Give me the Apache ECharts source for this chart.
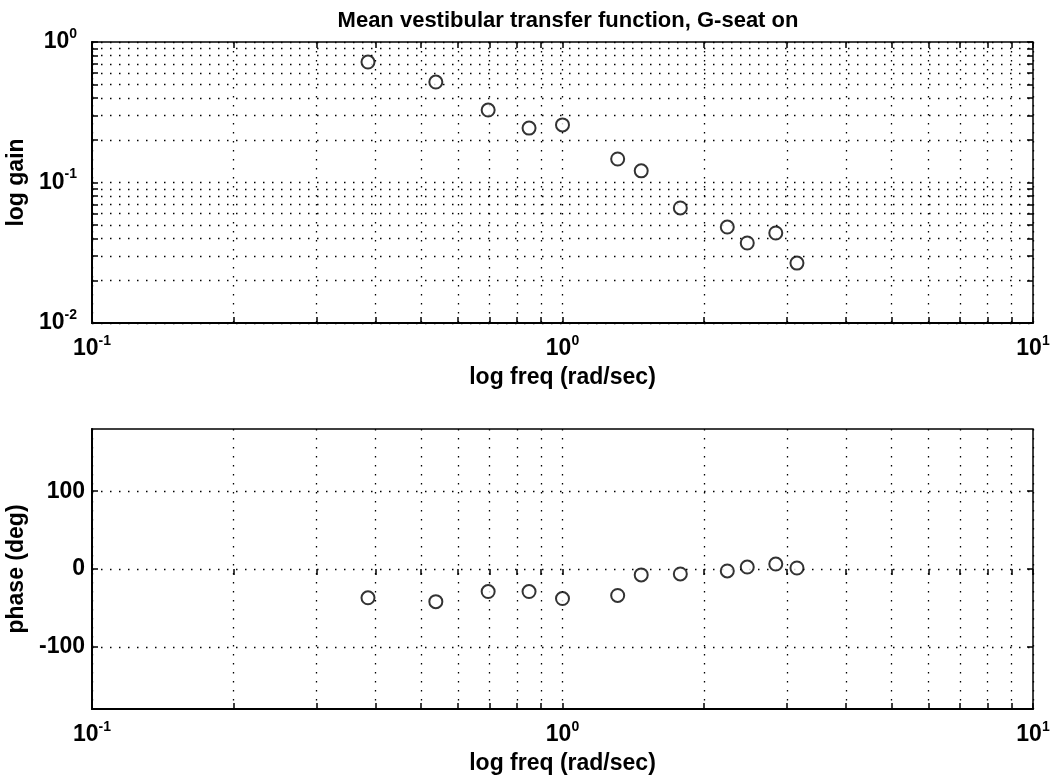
<!DOCTYPE html>
<html>
<head>
<meta charset="utf-8">
<script src="https://cdn.jsdelivr.net/npm/echarts@6/dist/echarts.min.js"></script>
<style>
  html, body { margin: 0; padding: 0; background: #fff; }
  #chart { width: 1058px; height: 780px; }
</style>
</head>
<body>
<div id="chart"></div>
<script>
var freq = [0.386, 0.538, 0.695, 0.849, 1.0, 1.31, 1.47, 1.78, 2.24, 2.47, 2.84, 3.15];
var gain = [0.72, 0.519, 0.328, 0.244, 0.257, 0.147, 0.121, 0.0659, 0.0482, 0.0371, 0.0437, 0.0267];
var phase = [-37, -42, -29, -29, -38, -34, -7.6, -6.4, -2.5, 2.5, 6.4, 1.3];

var freqTicks = [0.1, 0.2, 0.3, 0.4, 0.5, 0.6, 0.7, 0.8, 0.9, 1, 2, 3, 4, 5, 6, 7, 8, 9, 10];
var freqLabels = [0.1, 1, 10];
var gainTicks = [0.01, 0.02, 0.03, 0.04, 0.05, 0.06, 0.07, 0.08, 0.09, 0.1, 0.2, 0.3, 0.4, 0.5, 0.6, 0.7, 0.8, 0.9, 1];
var gainLabels = [0.01, 0.1, 1];
var phaseTicks = [-100, 0, 100];

var FONT = "Liberation Sans, Arial, sans-serif";
var BLACK = "#000";

function pow10Label(v) {
  var e = Math.round(Math.log(v) / Math.LN10);
  return "{b|10}{s|" + e + "}";
}
var richPow = {
  b: { fontSize: 23, fontFamily: FONT, fontWeight: "bold", color: BLACK, lineHeight: 30 },
  s: { fontSize: 14, fontFamily: FONT, fontWeight: "bold", color: BLACK, verticalAlign: "top", lineHeight: 30, padding: [0, 0, 14, 0] }
};
var nameStyle = { fontSize: 23, fontFamily: FONT, fontWeight: "bold", color: BLACK };

var dotted = { color: BLACK, width: 1.3, type: [1.5, 7.5] };
var tickLine = { color: BLACK, width: 1.5 };

function pairs(xs, ys) {
  return xs.map(function(x, i) { return [x, ys[i]]; });
}

function freqAxis(idx) {
  return {
    type: "log",
    gridIndex: idx,
    min: 0.1,
    max: 10,
    name: "log freq (rad/sec)",
    nameLocation: "middle",
    nameGap: 43,
    nameTextStyle: nameStyle,
    axisLine: { onZero: false, lineStyle: { color: BLACK, width: 2 } },
    axisTick: { inside: true, length: 6, customValues: freqTicks, lineStyle: tickLine },
    axisLabel: { customValues: freqLabels, formatter: pow10Label, rich: richPow, margin: 11 },
    splitLine: { show: true, lineStyle: dotted }
  };
}

// mirrored ticks on the top edge (no labels, no grid)
function freqTopAxis(idx) {
  return {
    type: "log",
    gridIndex: idx,
    position: "top",
    min: 0.1,
    max: 10,
    axisLine: { show: false },
    axisTick: { inside: true, length: 6, customValues: freqTicks, lineStyle: tickLine },
    axisLabel: { show: false },
    splitLine: { show: false }
  };
}

var chart = echarts.init(document.getElementById("chart"));
chart.setOption({
  animation: false,
  backgroundColor: "#fff",
  title: {
    text: "Mean vestibular transfer function, G-seat on",
    left: 563,
    textAlign: "center",
    top: 5,
    textStyle: { fontSize: 22, fontWeight: "bold", fontFamily: FONT, color: BLACK }
  },
  grid: [
    { left: 92, right: 25, top: 42, height: 281, outerBoundsMode: "none", show: true, borderColor: BLACK, borderWidth: 1.5, backgroundColor: "transparent" },
    { left: 92, right: 25, top: 429, height: 280, outerBoundsMode: "none", show: true, borderColor: BLACK, borderWidth: 1.5, backgroundColor: "transparent" }
  ],
  xAxis: [freqAxis(0), freqAxis(1), freqTopAxis(0), freqTopAxis(1)],
  yAxis: [
    {
      type: "log",
      gridIndex: 0,
      min: 0.01,
      max: 1,
      name: "log gain",
      nameLocation: "middle",
      nameGap: 58,
      nameTextStyle: nameStyle,
      axisLine: { lineStyle: { color: BLACK, width: 2 } },
      axisTick: { inside: true, length: 6, customValues: gainTicks, lineStyle: tickLine },
      axisLabel: { customValues: gainLabels, formatter: pow10Label, rich: richPow, margin: 15 },
      splitLine: { show: true, lineStyle: dotted }
    },
    {
      type: "value",
      gridIndex: 1,
      min: -180,
      max: 180,
      name: "phase (deg)",
      nameLocation: "middle",
      nameGap: 63,
      nameTextStyle: nameStyle,
      axisLine: { onZero: false, lineStyle: { color: BLACK, width: 2 } },
      axisTick: { inside: true, length: 6, customValues: phaseTicks, lineStyle: tickLine },
      axisLabel: { customValues: phaseTicks, fontSize: 23, fontWeight: "bold", fontFamily: FONT, color: BLACK, margin: 7 },
      splitLine: { show: true, lineStyle: dotted }
    },
    {
      type: "log",
      gridIndex: 0,
      position: "right",
      min: 0.01,
      max: 1,
      axisLine: { show: false },
      axisTick: { inside: true, length: 6, customValues: gainTicks, lineStyle: tickLine },
      axisLabel: { show: false },
      splitLine: { show: false }
    },
    {
      type: "value",
      gridIndex: 1,
      position: "right",
      min: -180,
      max: 180,
      axisLine: { show: false },
      axisTick: { inside: true, length: 6, customValues: phaseTicks, lineStyle: tickLine },
      axisLabel: { show: false },
      splitLine: { show: false }
    }
  ],
  series: [
    {
      type: "scatter",
      xAxisIndex: 0,
      yAxisIndex: 0,
      symbol: "emptyCircle",
      symbolSize: 13,
      itemStyle: { color: BLACK, borderColor: BLACK, borderWidth: 2 },
      data: pairs(freq, gain)
    },
    {
      type: "scatter",
      xAxisIndex: 1,
      yAxisIndex: 1,
      symbol: "emptyCircle",
      symbolSize: 13,
      itemStyle: { color: BLACK, borderColor: BLACK, borderWidth: 2 },
      data: pairs(freq, phase)
    }
  ]
});
</script>
</body>
</html>
